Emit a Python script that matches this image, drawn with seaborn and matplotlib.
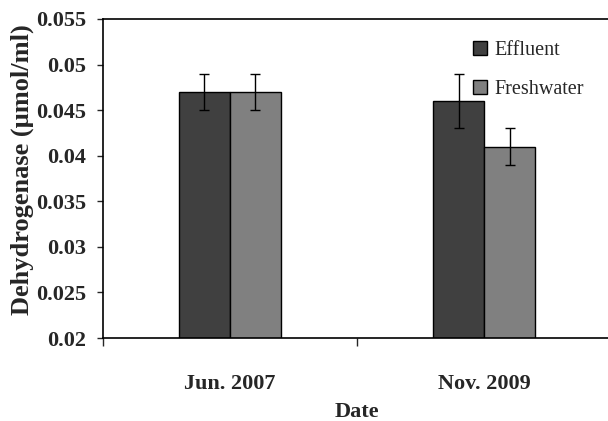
import pandas as pd
import matplotlib
matplotlib.use("Agg")
import matplotlib.pyplot as plt
import seaborn as sns
from matplotlib.ticker import MultipleLocator, FixedLocator

# === Data ===
dates = ["Jun. 2007", "Nov. 2009"]
series = ["Effluent", "Freshwater"]
effluent = [0.047, 0.046]
effluent_err = [0.002, 0.003]
freshwater = [0.047, 0.041]
freshwater_err = [0.002, 0.002]

df = pd.DataFrame({
    "Date": dates * 2,
    "Type": [series[0]] * 2 + [series[1]] * 2,
    "Value": effluent + freshwater,
})
errs = {series[0]: effluent_err, series[1]: freshwater_err}

# === Style ===
sns.set_style("white")
plt.rcParams["font.family"] = ["Liberation Serif", "DejaVu Serif"]

fig = plt.figure(figsize=(6.08, 4.21), dpi=100)
ax = fig.add_axes([102.7 / 608, 1 - 338 / 421, (611.5 - 102.7) / 608, (338 - 19) / 421])

sns.barplot(data=df, x="Date", y="Value", hue="Type", hue_order=series,
            palette=["#404040", "#808080"], edgecolor="black", linewidth=1,
            width=0.4, errorbar=None, saturation=1, ax=ax)

# === Error bars ===
for cont, name in zip(ax.containers, series):
    for bar, e in zip(cont.patches, errs[name]):
        xc = bar.get_x() + bar.get_width() / 2
        ax.errorbar(xc, bar.get_height(), yerr=e, fmt="none", ecolor="black",
                    elinewidth=1, capsize=3.6, capthick=1)

# === Axes ===
ax.set_ylim(0.02, 0.055)
ax.set_xlim(-0.5, 1.5)
ax.yaxis.set_major_locator(MultipleLocator(0.005))
ax.set_yticklabels([f"{v:g}" for v in ax.get_yticks()])
ax.xaxis.set_minor_locator(FixedLocator([-0.5, 0.5, 1.5]))
ax.tick_params(axis="x", which="major", length=0, pad=26, labelsize=16)
ax.tick_params(axis="x", which="minor", length=6, width=1, direction="out", bottom=True)
ax.tick_params(axis="y", length=4, width=1, direction="out", left=True, labelsize=16, pad=8)
for lab in ax.get_xticklabels() + ax.get_yticklabels():
    lab.set_fontweight("bold")

for side in ["left", "top", "bottom"]:
    ax.spines[side].set_color("black")
    ax.spines[side].set_linewidth(1.2)
ax.spines["right"].set_visible(False)

ax.set_xlabel("Date", fontsize=16, fontweight="bold", labelpad=6)
ax.set_ylabel("Dehydrogenase (µmol/ml)", fontsize=19, fontweight="bold")
ax.yaxis.set_label_coords(-0.135, 0.527)

leg = ax.legend(loc="upper left", bbox_to_anchor=(473 / 608, 1 - 41 / 421),
                bbox_transform=fig.transFigure, frameon=False, fontsize=14.5,
                handlelength=0.7, handleheight=0.7, handletextpad=0.35,
                labelspacing=1.0, borderpad=0, borderaxespad=0)
for h in leg.legend_handles:
    h.set_edgecolor("black")

fig.savefig("out.png", dpi=100)
plt.close(fig)
